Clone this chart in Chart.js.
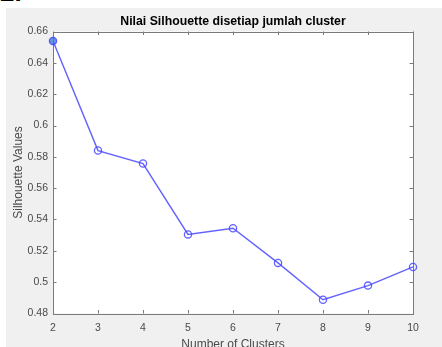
<!DOCTYPE html>
<html>
<head>
<meta charset="utf-8">
<script src="https://cdn.jsdelivr.net/npm/chart.js@4"></script>
<style>
  html, body { margin: 0; padding: 0; background: #fff; overflow: hidden; width: 442px; height: 347px; }
  #head { position: absolute; left: 0; top: -23px; font: bold 26px "Liberation Sans", Arial, sans-serif; color: #000; }
  #panel { position: absolute; left: 6px; top: 8px; width: 436px; height: 350px; background: #f0f0f0; }
  canvas { display: block; }
</style>
</head>
<body>
<div id="head">2.</div>
<div id="panel"><canvas id="chart" width="436" height="350"></canvas></div>
<script>
// jumlah cluster vs nilai silhouette
const clusters = [2, 3, 4, 5, 6, 7, 8, 9, 10]
const silhouette = [0.654, 0.584, 0.5757, 0.5305, 0.5344, 0.5123, 0.4888, 0.4978, 0.5097]
const yTicks = [0.48, 0.5, 0.52, 0.54, 0.56, 0.58, 0.6, 0.62, 0.64, 0.66]
const chartTitle = 'Nilai Silhouette disetiap jumlah cluster'

const axisColor = '#7a7a7a'
const textColor = '#4a4a4a'
const fontFamily = '"Liberation Sans", Arial, Helvetica, sans-serif'

// white plot area + matlab style box with inward ticks, title centred over the box
const matlabBox = {
    id: 'matlabBox',
    beforeDraw(chart) {
        const c = chart.ctx
        const a = chart.chartArea
        c.save()
        c.fillStyle = '#ffffff'
        c.fillRect(a.left, a.top, a.right - a.left, a.bottom - a.top)
        c.restore()
    },
    beforeDatasetsDraw(chart) {
        const c = chart.ctx
        const a = chart.chartArea
        const x = chart.scales.x
        const y = chart.scales.y
        c.save()
        c.strokeStyle = axisColor
        c.lineWidth = 1
        c.beginPath()
        x.ticks.forEach(t => {
            const px = Math.round(x.getPixelForValue(t.value)) + 0.5
            c.moveTo(px, a.bottom); c.lineTo(px, a.bottom - 3.5)
            c.moveTo(px, a.top); c.lineTo(px, a.top + 3.5)
        })
        y.ticks.forEach(t => {
            const py = Math.round(y.getPixelForValue(t.value)) + 0.5
            c.moveTo(a.left, py); c.lineTo(a.left + 3.5, py)
            c.moveTo(a.right, py); c.lineTo(a.right - 3.5, py)
        })
        c.stroke()
        c.strokeRect(Math.round(a.left) + 0.5, Math.round(a.top) + 0.5, Math.round(a.right - a.left), Math.round(a.bottom - a.top))

        c.fillStyle = '#000'
        c.font = 'bold 12.3px ' + fontFamily
        c.textAlign = 'center'
        c.textBaseline = 'middle'
        c.fillText(chartTitle, (a.left + a.right) / 2, a.top - 10)
        c.restore()
    }
}

const ctx = document.getElementById('chart').getContext('2d')

const chart = new Chart(ctx, {
    type: 'line',
    data: {
        datasets: [{
            label: 'Silhouette',
            data: clusters.map((c, i) => ({ x: c, y: silhouette[i] })),
            borderColor: 'rgba(70, 70, 255, 0.85)',
            borderWidth: 1.4,
            pointRadius: 3.6,
            pointBorderWidth: 1.3,
            pointBorderColor: 'rgba(70, 70, 255, 0.85)',
            pointBackgroundColor: clusters.map((c, i) => i === 0 ? 'rgba(60, 120, 220, 0.75)' : 'rgba(255, 255, 255, 0)'),
            tension: 0,
            clip: false
        }]
    },
    options: {
        responsive: false,
        animation: false,
        devicePixelRatio: 1,
        layout: { padding: { left: 0, right: 29, top: 23.5, bottom: 0 } },
        plugins: {
            legend: { display: false },
            tooltip: { enabled: false },
            title: { display: false }
        },
        scales: {
            x: {
                type: 'linear',
                min: 2,
                max: 10,
                grid: { display: false, drawTicks: false },
                border: { display: false },
                ticks: {
                    stepSize: 1,
                    color: textColor,
                    padding: 8,
                    maxRotation: 0,
                    font: { family: fontFamily, size: 10.5 }
                },
                title: {
                    display: true,
                    text: 'Number of Clusters',
                    color: textColor,
                    font: { family: fontFamily, size: 12 },
                    padding: { top: 0, bottom: 6 }
                },
                afterFit: s => { s.height = 44.5 }
            },
            y: {
                min: 0.48,
                max: 0.66,
                grid: { display: false, drawTicks: false },
                border: { display: false },
                afterBuildTicks: s => { s.ticks = yTicks.map(v => ({ value: v })) },
                ticks: {
                    color: textColor,
                    padding: 5,
                    font: { family: fontFamily, size: 10.5 },
                    callback: v => String(+(+v).toFixed(2))
                },
                title: {
                    display: true,
                    text: 'Silhouette Values',
                    color: textColor,
                    font: { family: fontFamily, size: 12 },
                    padding: { top: 5, bottom: 0 }
                },
                afterFit: s => { s.width = 47 }
            }
        }
    },
    plugins: [matlabBox]
})
</script>
</body>
</html>
